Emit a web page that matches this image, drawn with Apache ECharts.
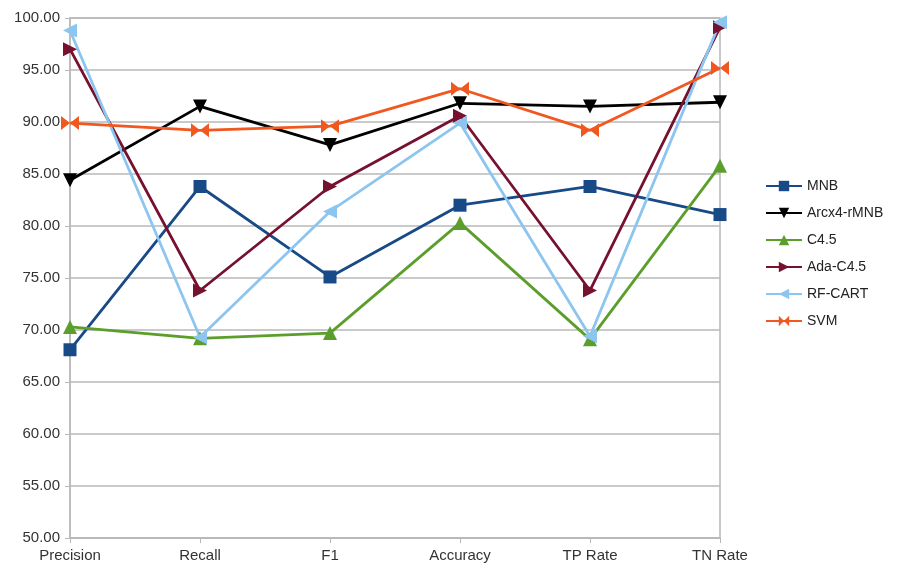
<!DOCTYPE html>
<html>
<head>
<meta charset="utf-8">
<script src="https://cdn.jsdelivr.net/npm/echarts@6/dist/echarts.min.js"></script>
<style>
  html, body { margin: 0; padding: 0; background: #fff; }
  #chart { width: 908px; height: 573px; }
</style>
</head>
<body>
<div id="chart"></div>
<script>
// Metric categories along the x axis
const categories = ['Precision', 'Recall', 'F1', 'Accuracy', 'TP Rate', 'TN Rate'];

// Scores (%) per classifier
const mnb      = [68.1, 83.8, 75.1, 82.0, 83.8, 81.1];
const arcx4    = [84.4, 91.5, 87.8, 91.8, 91.5, 91.9];
const c45      = [70.3, 69.2, 69.7, 80.3, 69.1, 85.8];
const adaC45   = [97.0, 73.8, 83.8, 90.6, 73.8, 99.1];
const rfCart   = [98.8, 69.3, 81.4, 89.9, 69.4, 99.6];
const svm      = [89.9, 89.2, 89.6, 93.2, 89.2, 95.2];

const seriesNames = ['MNB', 'Arcx4-rMNB', 'C4.5', 'Ada-C4.5', 'RF-CART', 'SVM'];

const FONT = 'Liberation Sans, Arial, sans-serif';

// two inward-pointing triangles (bow-tie) for the SVM series
const bowtie = 'path://M0,0 L10,5 L0,10 Z M20,0 L10,5 L20,10 Z';

function line(name, data, color, symbol, size, rotate) {
  return {
    name: name,
    type: 'line',
    data: data,
    symbol: symbol,
    symbolSize: size,
    symbolRotate: rotate || 0,
    symbolKeepAspect: false,
    lineStyle: { color: color, width: 2.8 },
    itemStyle: { color: color },
    emphasis: { disabled: true },
    animation: false
  };
}

const chart = echarts.init(document.getElementById('chart'), null, { renderer: 'canvas' });
chart.setOption({
  backgroundColor: '#ffffff',
  grid: {
    left: 70, right: 188, top: 18, bottom: 35,
    show: true, borderColor: '#b8b8b8', borderWidth: 1.5
  },
  legend: {
    orient: 'vertical',
    left: 760,
    top: 174,
    itemWidth: 36,
    itemHeight: 13,
    itemGap: 13,
    textStyle: { fontFamily: FONT, fontSize: 14, color: '#222' },
    data: seriesNames
  },
  xAxis: {
    type: 'category',
    data: categories,
    boundaryGap: false,
    axisLine: { lineStyle: { color: '#b8b8b8', width: 1.5 } },
    axisTick: { show: true, length: 5, lineStyle: { color: '#b8b8b8' } },
    axisLabel: { fontFamily: FONT, fontSize: 15, color: '#333', margin: 10 },
    splitLine: { show: false }
  },
  yAxis: {
    type: 'value',
    min: 50, max: 100, interval: 5,
    axisLine: { show: true, lineStyle: { color: '#b8b8b8', width: 1.5 } },
    axisTick: { show: true, length: 5, lineStyle: { color: '#b8b8b8' } },
    axisLabel: {
      fontFamily: FONT, fontSize: 15, color: '#333', margin: 10,
      formatter: v => v.toFixed(2)
    },
    splitLine: { lineStyle: { color: '#b8b8b8', width: 1.5 } }
  },
  series: [
    line('MNB', mnb, '#174a86', 'rect', 13),
    line('Arcx4-rMNB', arcx4, '#000000', 'triangle', 14, 180),
    line('C4.5', c45, '#5c9e2c', 'triangle', 14),
    line('Ada-C4.5', adaC45, '#76112f', 'triangle', 14, -90),
    line('RF-CART', rfCart, '#8cc6f0', 'triangle', 14, 90),
    line('SVM', svm, '#f0581f', bowtie, [18, 14])
  ]
});
</script>
</body>
</html>
